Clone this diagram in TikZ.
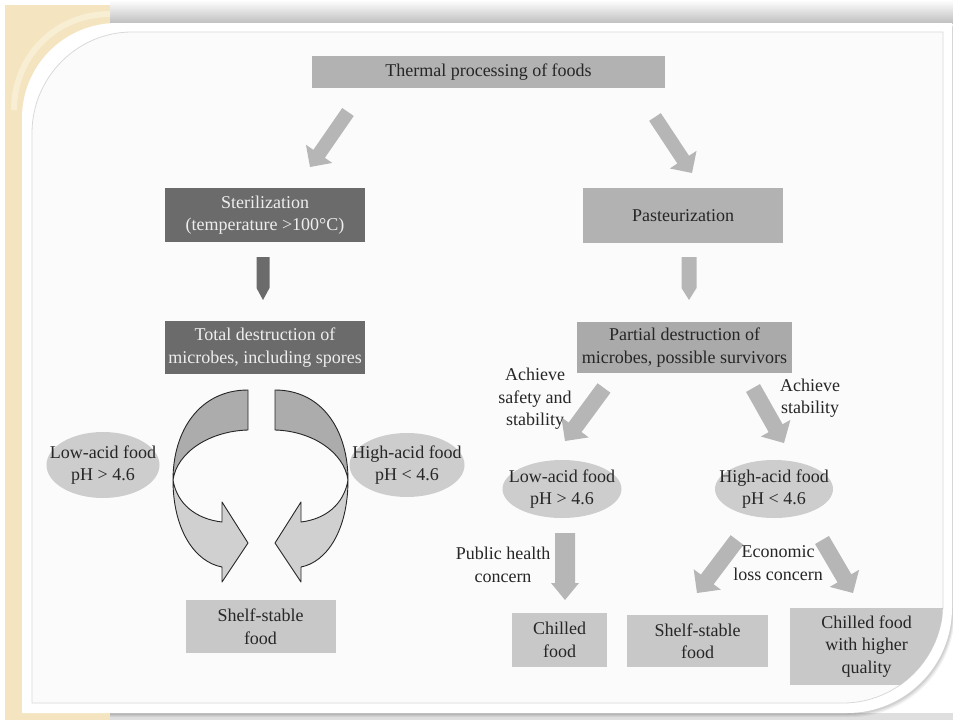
\documentclass[tikz,border=0pt]{standalone}
\usepackage{fontspec}
\setmainfont{Liberation Serif}
\usetikzlibrary{calc,shapes.geometric}
\definecolor{beige}{RGB}{244,229,192}
\definecolor{beigelight}{RGB}{248,238,212}
\definecolor{darkbox}{RGB}{107,107,107}
\definecolor{midbox}{RGB}{178,178,178}
\definecolor{partbox}{RGB}{170,170,170}
\definecolor{lightbox}{RGB}{200,200,200}
\definecolor{ellfill}{RGB}{205,205,205}
\definecolor{arrowgray}{RGB}{182,182,182}
\definecolor{txt}{RGB}{38,38,38}
\definecolor{lighttxt}{RGB}{238,238,238}
\definecolor{curvetop}{RGB}{172,172,172}
\definecolor{curvebot}{RGB}{208,208,208}
\definecolor{diagbg}{RGB}{251,251,251}
\newcommand{\blockarrow}[6]{%
  \coordinate (bah) at ($(#2)!#5!(#1)$);
  \fill[#6] ($(#1)!#3!90:(#2)$) -- ($(bah)!#3!90:(#2)$) -- ($(bah)!#4!90:(#2)$) -- (#2)
    -- ($(bah)!#4!-90:(#2)$) -- ($(bah)!#3!-90:(#2)$) -- ($(#1)!#3!-90:(#2)$) -- cycle;}
\tikzset{
  fnt/.style={font=\fontsize{18}{22.5}\selectfont},
  box/.style={rectangle, inner sep=0pt, align=center, fnt, text=txt},
  darkb/.style={box, fill=darkbox, text=lighttxt},
  midb/.style={box, fill=midbox},
  partb/.style={box, fill=partbox},
  lightb/.style={box, fill=lightbox},
  elltext/.style={inner sep=0pt, align=center, fnt, text=txt},
  lbl/.style={inner sep=0pt, align=center, fnt, text=txt},
  barrow/.style={fill=arrowgray},
  darrow/.style={fill=darkbox},
  curv/.style={draw=black!85, line width=0.9pt, line join=round},
  outercard/.style={insert path={(22,118) .. controls (22,65.5) and (64.5,23) .. (117,23) -- (952,23) -- (952,608) .. controls (952,666) and (905,713) .. (847,713) -- (22,713) -- cycle}},
  innercard/.style={insert path={(32,133) .. controls (32,77.8) and (76.8,32) .. (132,32) -- (943,32) -- (943,603) .. controls (943,658) and (898,703) .. (843,703) -- (32,703) -- cycle}},
}
\begin{document}
\begin{tikzpicture}[x=1pt,y=-1pt]
\useasboundingbox (0,0) rectangle (953,720);
\fill[white] (0,0) rectangle (953,720);
% shadows
\shade[top color=white, bottom color=gray!50] (110,0) rectangle (953,23);
\fill[gray!25] (110,713) rectangle (953,720);
\foreach \s/\o in {7/0.05,5/0.06,3/0.08}{
  \path[fill=black, fill opacity=\o, shift={(0.4*\s,0.6*\s)}, outercard];
}
% beige panel
\fill[beige] (5,5) rectangle (110,720);
\draw[beigelight, line width=6pt] (110,14) .. controls (56,14) and (14,56) .. (14,110);
% card
\path[fill=white, outercard];
\path[fill=diagbg, draw=gray!30, line width=0.8pt, innercard];

\begin{scope}
\clip[innercard];
% nodes
\node[midb, minimum width=353pt, minimum height=32pt] (top) at (488.5,72) {Thermal processing of foods};
\node[darkb, minimum width=200pt, minimum height=54pt] (ster) at (265,215) {Sterilization\\(temperature >100°C)};
\node[midb, minimum width=200pt, minimum height=55pt] (past) at (683,215.5) {Pasteurization};
\node[darkb, minimum width=200pt, minimum height=53pt] (total) at (265,347.5) {Total destruction of\\microbes, including spores};
\node[partb, minimum width=215pt, minimum height=51pt] (part) at (684.5,347.5) {Partial destruction of\\microbes, possible survivors};

% straight block arrows
\coordinate (a1s) at (348,112); \coordinate (a1e) at (310,167);
\coordinate (a2s) at (655,117); \coordinate (a2e) at (692,173);
\coordinate (a3s) at (263,257); \coordinate (a3e) at (263,300);
\coordinate (a4s) at (689,257); \coordinate (a4e) at (689,300);
\coordinate (a5s) at (604,388); \coordinate (a5e) at (565,441);
\coordinate (a6s) at (753,388); \coordinate (a6e) at (784,443);
\coordinate (a7s) at (565,533); \coordinate (a7e) at (565,600);
\coordinate (a8s) at (737,540); \coordinate (a8e) at (697,593);
\coordinate (a9s) at (822,540); \coordinate (a9e) at (853,593);
\blockarrow{a1s}{a1e}{7pt}{16pt}{16pt}{barrow}
\blockarrow{a2s}{a2e}{7pt}{16pt}{16pt}{barrow}
\blockarrow{a3s}{a3e}{6.5pt}{6.5pt}{12pt}{darrow}
\blockarrow{a4s}{a4e}{7.5pt}{7.5pt}{12pt}{barrow}
\blockarrow{a5s}{a5e}{8pt}{17pt}{17pt}{barrow}
\blockarrow{a6s}{a6e}{8pt}{17pt}{17pt}{barrow}
\blockarrow{a7s}{a7e}{10pt}{14pt}{17pt}{barrow}
\blockarrow{a8s}{a8e}{8pt}{17pt}{17pt}{barrow}
\blockarrow{a9s}{a9e}{8pt}{17pt}{17pt}{barrow}

% curved arrows (left)
\path[curv, fill=curvetop] (248,390) .. controls (200,390) and (173,430) .. (173,480) .. controls (177,452) and (210,431) .. (248,430) -- cycle;
\path[curv, fill=curvebot] (173,480) .. controls (173,530) and (195,562) .. (222,567) -- (222,582) -- (248,543) -- (222,502) -- (222,522) .. controls (196,519) and (177,504) .. (173,480) -- cycle;
% curved arrows (right)
\path[curv, fill=curvetop] (275,390) .. controls (322,390) and (348,430) .. (348,480) .. controls (344,452) and (312,431) .. (275,430) -- cycle;
\path[curv, fill=curvebot] (348,480) .. controls (348,530) and (327,562) .. (301,567) -- (301,582) -- (275,543) -- (301,502) -- (301,522) .. controls (326,519) and (344,504) .. (348,480) -- cycle;

% ellipses
\coordinate (lowLc) at (103,465);
\coordinate (highLc) at (407,465);
\coordinate (lowRc) at (562,489);
\coordinate (highRc) at (774,489);
\fill[ellfill] (lowLc) ellipse [x radius=56.5pt, y radius=33pt];
\fill[ellfill] (highLc) ellipse [x radius=57.5pt, y radius=32pt];
\fill[ellfill] (lowRc) ellipse [x radius=59.5pt, y radius=29pt];
\fill[ellfill] (highRc) ellipse [x radius=59pt, y radius=29pt];
\node[elltext] (lowL) at (lowLc) {Low-acid food\\pH > 4.6};
\node[elltext] (highL) at (highLc) {High-acid food\\pH < 4.6};
\node[elltext] (lowR) at (lowRc) {Low-acid food\\pH > 4.6};
\node[elltext] (highR) at (highRc) {High-acid food\\pH < 4.6};

% bottom boxes
\node[lightb, minimum width=150pt, minimum height=53pt] (shelfL) at (260.5,626.5) {Shelf-stable\\food};
\node[lightb, minimum width=95pt, minimum height=54pt] (chill) at (559.5,640) {Chilled\\food};
\node[lightb, minimum width=141pt, minimum height=52pt] (shelfR) at (697.5,641) {Shelf-stable\\food};
\node[lightb, minimum width=153pt, minimum height=77pt] (chillHQ) at (866.5,646.5) {Chilled food\\with higher\\quality};

% labels
\node[lbl] (ach1) at (535,399) {Achieve\\safety and\\stability};
\node[lbl] (ach2) at (810,398) {Achieve\\stability};
\node[lbl] (pub) at (503,565) {Public health\\concern};
\node[lbl] (eco) at (778,563) {Economic\\loss concern};
\end{scope}
\end{tikzpicture}
\end{document}
